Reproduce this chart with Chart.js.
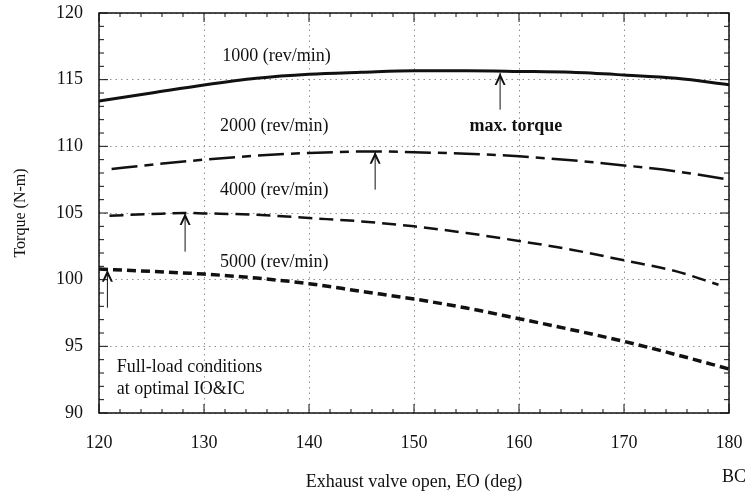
<!DOCTYPE html>
<html>
<head>
<meta charset="utf-8">
<script src="https://cdn.jsdelivr.net/npm/chart.js@4.4.1/dist/chart.umd.min.js"></script>
<style>
  html, body { margin: 0; padding: 0; background: #fff; }
  #wrap { width: 749px; height: 493px; }
</style>
</head>
<body>
<div id="wrap"><canvas id="torqueChart" width="749" height="493"></canvas></div>
<script>
// valores
const eo1000 = [120, 125, 130, 135, 140, 145, 150, 155, 160, 165, 170, 175, 180];
const torque1000 = [113.4, 114.0, 114.6, 115.1, 115.4, 115.55, 115.67, 115.67, 115.62, 115.55, 115.35, 115.1, 114.62];

const eo2000 = [121.2, 125, 130, 135, 140, 146.3, 150, 155, 160, 165, 170, 175, 180];
const torque2000 = [108.3, 108.62, 109.0, 109.3, 109.5, 109.62, 109.55, 109.45, 109.25, 108.95, 108.57, 108.12, 107.5];

const eo4000 = [121, 125, 128.2, 130, 135, 140, 145, 150, 155, 160, 165, 170, 175, 179];
const torque4000 = [104.8, 104.92, 105.0, 104.97, 104.87, 104.62, 104.37, 104.0, 103.5, 102.9, 102.25, 101.45, 100.62, 99.62];

const eo5000 = [120, 125, 130, 135, 140, 145, 150, 155, 160, 165, 170, 175, 180];
const torque5000 = [100.8, 100.62, 100.42, 100.12, 99.7, 99.12, 98.55, 97.87, 97.07, 96.25, 95.37, 94.37, 93.3];

// etiquetas de las curvas
const speedLabels = ['1000 (rev/min)', '2000 (rev/min)', '4000 (rev/min)', '5000 (rev/min)'];
const speedLabelX = [136.9, 136.7, 136.7, 136.7];
const speedLabelY = [116.72, 111.54, 106.67, 101.27];

// flechas de max torque
const arrowX = [158.2, 146.3, 128.2, 120.8];
const arrowTip = [115.5, 109.6, 105.0, 100.75];
const arrowTail = [112.75, 106.75, 102.1, 97.9];

const noteLines = ['Full-load conditions', 'at optimal IO&IC'];
const noteX = 121.7;
const noteY = [93.4, 91.8];
const maxTorqueText = 'max. torque';
const maxTorqueX = 159.7;
const maxTorqueY = 111.47;

const FONT = '"Liberation Serif", "Times New Roman", serif';

function puntos(xs, ys) {
  return xs.map((x, i) => ({ x: x, y: ys[i] }));
}

// sin padding extra de las etiquetas
function sinPadding(s) {
  s.paddingTop = 0;
  s.paddingBottom = 0;
  s.paddingLeft = 0;
  s.paddingRight = 0;
}

const decoracion = {
  id: 'decoracion',
  afterDatasetsDraw(chart) {
    const ctx = chart.ctx;
    const xs = chart.scales.x;
    const ys = chart.scales.y;
    const a = chart.chartArea;
    ctx.save();

    // marco
    ctx.strokeStyle = '#111';
    ctx.lineWidth = 1.5;
    ctx.strokeRect(a.left, a.top, a.right - a.left, a.bottom - a.top);

    // ticks hacia dentro
    ctx.lineWidth = 1;
    ctx.beginPath();
    for (let v = xs.min; v <= xs.max; v += 2) {
      const px = xs.getPixelForValue(v);
      const len = (v % 10 === 0) ? 9 : 4;
      ctx.moveTo(px, a.bottom); ctx.lineTo(px, a.bottom - len);
      ctx.moveTo(px, a.top); ctx.lineTo(px, a.top + len);
    }
    for (let v = ys.min; v <= ys.max; v += 1) {
      const py = ys.getPixelForValue(v);
      const len = (v % 5 === 0) ? 9 : 5;
      ctx.moveTo(a.left, py); ctx.lineTo(a.left + len, py);
      ctx.moveTo(a.right, py); ctx.lineTo(a.right - len, py);
    }
    ctx.stroke();

    // flechas
    ctx.lineWidth = 1;
    ctx.fillStyle = '#111';
    arrowX.forEach((x, i) => {
      const px = xs.getPixelForValue(x);
      const tip = ys.getPixelForValue(arrowTip[i]);
      const tail = ys.getPixelForValue(arrowTail[i]);
      ctx.beginPath();
      ctx.moveTo(px, tail); ctx.lineTo(px, tip);
      ctx.stroke();
      ctx.beginPath();
      ctx.moveTo(px, tip);
      ctx.lineTo(px - 5.5, tip + 12);
      ctx.lineTo(px - 3.5, tip + 12);
      ctx.lineTo(px, tip + 5);
      ctx.lineTo(px + 3.5, tip + 12);
      ctx.lineTo(px + 5.5, tip + 12);
      ctx.closePath();
      ctx.fill();
    });

    // textos
    ctx.fillStyle = '#111';
    ctx.textBaseline = 'middle';
    ctx.font = '18px ' + FONT;
    ctx.textAlign = 'center';
    speedLabels.forEach((t, i) => {
      ctx.fillText(t, xs.getPixelForValue(speedLabelX[i]), ys.getPixelForValue(speedLabelY[i]));
    });
    ctx.textAlign = 'left';
    noteLines.forEach((t, i) => {
      ctx.fillText(t, xs.getPixelForValue(noteX), ys.getPixelForValue(noteY[i]));
    });
    ctx.font = 'bold 18px ' + FONT;
    ctx.textAlign = 'center';
    ctx.fillText(maxTorqueText, xs.getPixelForValue(maxTorqueX), ys.getPixelForValue(maxTorqueY));

    // BC bajo 180
    ctx.font = '18px ' + FONT;
    ctx.fillText('BC', xs.getPixelForValue(xs.max) + 5, 477);
    ctx.restore();
  }
};

const lineaBase = {
  showLine: true,
  borderColor: '#111',
  pointRadius: 0,
  cubicInterpolationMode: 'monotone'
};

new Chart(document.getElementById('torqueChart'), {
  type: 'scatter',
  data: {
    datasets: [
      Object.assign({}, lineaBase, {
        label: '1000 (rev/min)',
        data: puntos(eo1000, torque1000),
        borderWidth: 3
      }),
      Object.assign({}, lineaBase, {
        label: '2000 (rev/min)',
        data: puntos(eo2000, torque2000),
        borderWidth: 2.5,
        borderDash: [26, 7, 9, 7]
      }),
      Object.assign({}, lineaBase, {
        label: '4000 (rev/min)',
        data: puntos(eo4000, torque4000),
        borderWidth: 2.5,
        borderDash: [14, 7]
      }),
      Object.assign({}, lineaBase, {
        label: '5000 (rev/min)',
        data: puntos(eo5000, torque5000),
        borderWidth: 3.5,
        borderDash: [9, 5]
      })
    ]
  },
  options: {
    responsive: false,
    animation: false,
    layout: { padding: { top: 13, right: 20, left: 0, bottom: 0 } },
    plugins: {
      legend: { display: false },
      tooltip: { enabled: false }
    },
    scales: {
      x: {
        type: 'linear',
        min: 120,
        max: 180,
        afterFit: s => { s.height = 80; sinPadding(s); },
        ticks: {
          stepSize: 10,
          padding: 19,
          color: '#111',
          font: { family: FONT, size: 18 }
        },
        grid: { color: '#909090', lineWidth: 1, drawTicks: false },
        border: { display: false, dash: [1.5, 4] },
        title: {
          display: true,
          text: 'Exhaust valve open, EO (deg)',
          color: '#111',
          font: { family: FONT, size: 18 },
          padding: { top: 0, bottom: 0 }
        }
      },
      y: {
        min: 90,
        max: 120,
        afterFit: s => { s.width = 99; sinPadding(s); },
        ticks: {
          stepSize: 5,
          padding: 16,
          color: '#111',
          font: { family: FONT, size: 18 }
        },
        grid: { color: '#909090', lineWidth: 1, drawTicks: false },
        border: { display: false, dash: [1.5, 4] },
        title: {
          display: true,
          text: 'Torque (N-m)',
          color: '#111',
          font: { family: FONT, size: 16 },
          padding: { top: 11, bottom: 0 }
        }
      }
    }
  },
  plugins: [decoracion]
});
</script>
</body>
</html>
